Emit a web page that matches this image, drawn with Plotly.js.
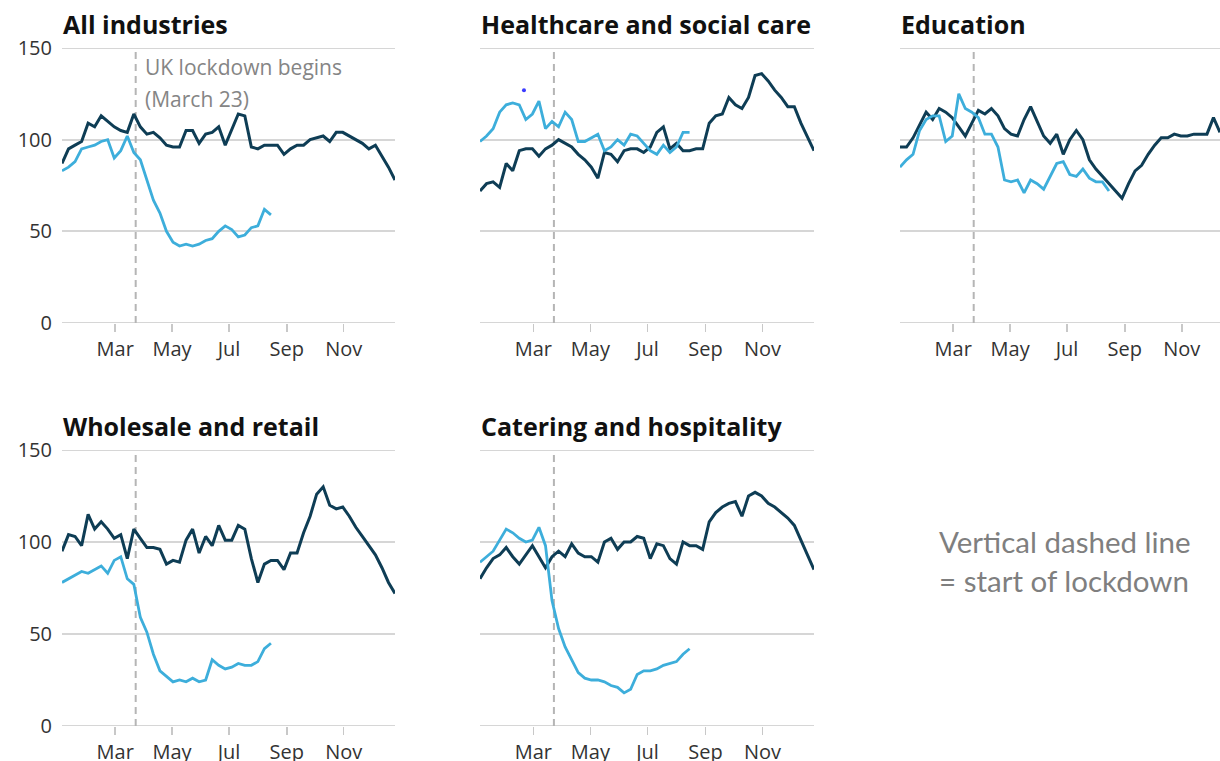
<!DOCTYPE html>
<html>
<head>
<meta charset="utf-8">
<script src="https://cdn.plot.ly/plotly-3.0.1.min.js"></script>
<style>html,body{margin:0;padding:0;background:#fff;}#chart{width:1220px;height:761px;}</style>
</head>
<body>
<div id="chart"></div>
<script>
// Weekly dates (week ending Saturday)
const weeks = [
 '2020-01-04','2020-01-11','2020-01-18','2020-01-25','2020-02-01','2020-02-08','2020-02-15','2020-02-22','2020-02-29',
 '2020-03-07','2020-03-14','2020-03-21','2020-03-28','2020-04-04','2020-04-11','2020-04-18','2020-04-25',
 '2020-05-02','2020-05-09','2020-05-16','2020-05-23','2020-05-30','2020-06-06','2020-06-13','2020-06-20','2020-06-27',
 '2020-07-04','2020-07-11','2020-07-18','2020-07-25','2020-08-01','2020-08-08','2020-08-15','2020-08-22','2020-08-29',
 '2020-09-05','2020-09-12','2020-09-19','2020-09-26','2020-10-03','2020-10-10','2020-10-17','2020-10-24','2020-10-31',
 '2020-11-07','2020-11-14','2020-11-21','2020-11-28','2020-12-05','2020-12-12','2020-12-19','2020-12-26'
];

const panelTitles = ['All industries','Healthcare and social care','Education','Wholesale and retail','Catering and hospitality'];
const monthTicks = ['2020-03-01','2020-05-01','2020-07-01','2020-09-01','2020-11-01'];
const monthLabels = ['Mar','May','Jul','Sep','Nov'];
const yTicks = [0,50,100,150];
const lockdownDate = '2020-03-23';

// Previous year (dark) and 2020 (light blue) series
const allPrev = [87,95,97,99,109,107,113,110,107,105,104,114,107,103,104,101,97,96,96,105,105,98,103,104,107,97,105,114,113,96,95,97,97,97,92,95,97,97,100,101,102,99,104,104,102,100,98,95,97,91,85,78];
const allCur  = [83,85,88,95,96,97,99,100,90,94,102,93,89,78,67,60,50,44,42,43,42,43,45,46,50,53,51,47,48,52,53,62,59];

const healthPrev = [72,76,77,74,87,83,94,95,95,91,95,97,100,98,96,92,89,85,79,93,92,88,94,95,95,93,96,104,107,95,98,94,94,95,95,109,113,114,123,119,117,123,135,136,132,127,123,118,118,109,101,94];
const healthCur  = [99,102,106,115,119,120,119,111,114,121,106,110,107,115,111,99,99,101,103,94,96,100,97,103,102,98,94,92,97,93,96,104,104];
const healthDotX = ['2020-02-20'];
const healthDotY = [127];

const eduPrev = [96,96,101,108,115,111,117,115,112,107,102,109,116,114,117,113,106,103,102,111,118,110,102,98,103,92,100,105,100,89,84,80,76,72,68,76,83,86,92,97,101,101,103,102,102,103,103,103,112,104];
const eduCur  = [85,89,92,105,111,113,113,99,102,125,117,115,112,103,103,96,78,77,78,71,78,76,73,80,87,88,81,80,84,79,77,77,72];

const retailPrev = [95,104,103,98,115,107,111,107,102,104,91,107,102,97,97,96,88,90,89,101,107,94,103,98,109,101,101,109,107,91,78,88,90,90,85,94,94,105,114,126,130,120,118,119,114,108,103,98,93,86,78,72];
const retailCur  = [78,80,82,84,83,85,87,83,90,92,80,77,59,51,39,30,27,24,25,24,26,24,25,36,33,31,32,34,33,33,35,42,45];

const cateringPrev = [80,86,91,93,97,92,88,93,98,92,86,92,95,92,99,94,92,92,89,100,102,96,100,100,103,102,91,99,98,91,88,100,98,98,96,111,116,119,121,122,114,125,127,125,121,119,116,113,109,101,93,85];
const cateringCur  = [89,92,95,101,107,105,102,100,101,108,98,68,53,43,36,29,26,25,25,24,22,21,18,20,28,30,30,31,33,34,35,39,42];

const prevSeries = [allPrev, healthPrev, eduPrev, retailPrev, cateringPrev];
const curSeries  = [allCur, healthCur, eduCur, retailCur, cateringCur];

const DARK = '#0e3d55';
const LIGHT = '#3daedb';
const GRID = '#d6d6d6';

const W = 1220, H = 761;
// pixel layout of each panel: [left, right, top(150), bottom(0)]
const panels = [
  [62, 395, 48, 323],
  [480, 814, 48, 323],
  [900, 1220, 48, 323],
  [62, 395, 450, 726],
  [480, 814, 450, 726]
];
const xRanges = [
  ['2020-01-04','2020-12-26'],
  ['2020-01-04','2020-12-26'],
  ['2020-01-04','2020-12-12'],
  ['2020-01-04','2020-12-26'],
  ['2020-01-04','2020-12-26']
];
const showY = [true,false,false,true,false];

const traces = [];
const layout = {
  width: W, height: H,
  margin: {l:0,r:0,t:0,b:0},
  paper_bgcolor: '#fff', plot_bgcolor: 'rgba(0,0,0,0)',
  showlegend: false,
  font: {family: 'Open Sans, sans-serif', color: '#333'},
  shapes: [], annotations: []
};

panels.forEach((p, i) => {
  const n = i === 0 ? '' : String(i + 1);
  const xa = 'x' + n, ya = 'y' + n;
  traces.push({x: weeks.slice(0, prevSeries[i].length), y: prevSeries[i], xaxis: xa, yaxis: ya,
    type: 'scatter', mode: 'lines', name: '2019', line: {color: DARK, width: 3}});
  traces.push({x: weeks.slice(0, curSeries[i].length), y: curSeries[i], xaxis: xa, yaxis: ya,
    type: 'scatter', mode: 'lines', name: '2020', line: {color: LIGHT, width: 2.8}});
  layout['xaxis' + n] = {
    type: 'date', anchor: ya, domain: [p[0]/W, p[1]/W], range: xRanges[i],
    tickvals: monthTicks, ticktext: monthLabels, ticks: 'outside', ticklen: 8, tickwidth: 1.5,
    tickcolor: '#c8c8c8', showgrid: false, zeroline: false, showline: false,
    tickfont: {size: 20, color: '#333', family: 'Open Sans, sans-serif'}, fixedrange: true
  };
  layout['yaxis' + n] = {
    anchor: xa, domain: [(H - p[3])/H, (H - p[2])/H], range: [0, 150],
    tickvals: yTicks, showticklabels: showY[i], ticks: 'outside', ticklen: 5, tickcolor: 'rgba(0,0,0,0)',
    showgrid: true, gridcolor: GRID, gridwidth: 2, zeroline: false, showline: false,
    tickfont: {size: 20, color: '#333', family: 'Open Sans, sans-serif'}, fixedrange: true
  };
  // edge grid lines at 0 and 150 (Plotly skips grid lines on the range edges)
  [yTicks[0], yTicks[yTicks.length - 1]].forEach(v => {
    layout.shapes.push({type: 'line', xref: xa + ' domain', yref: ya, x0: 0, x1: 1, y0: v, y1: v,
      layer: 'below', line: {color: GRID, width: 2}});
  });
  layout.shapes.push({type: 'line', xref: xa, yref: ya, x0: lockdownDate, x1: lockdownDate, y0: 0, y1: 150,
    layer: 'between', line: {color: '#b5b5b5', width: 2, dash: '7px,5px'}});
  layout.annotations.push({xref: 'paper', yref: 'paper', x: p[0]/W - 0.001, y: (H - (p[2] - 24))/H,
    xanchor: 'left', yanchor: 'middle', showarrow: false, text: '<b>' + panelTitles[i] + '</b>',
    font: {size: 25, color: '#111', family: 'Open Sans, sans-serif'}});
});

traces.push({x: healthDotX, y: healthDotY, xaxis: 'x2', yaxis: 'y2', type: 'scatter', mode: 'markers',
  marker: {color: '#3b3bff', size: 4}, name: 'dot'});

layout.annotations.push({xref: 'paper', yref: 'paper', x: 143/W, y: (H - 67)/H, xanchor: 'left', yanchor: 'middle',
  showarrow: false, text: 'UK lockdown begins', font: {size: 21, color: '#858585', family: 'Open Sans, sans-serif'}});
layout.annotations.push({xref: 'paper', yref: 'paper', x: 143/W, y: (H - 99)/H, xanchor: 'left', yanchor: 'middle',
  showarrow: false, text: '(March 23)', font: {size: 21, color: '#858585', family: 'Open Sans, sans-serif'}});
layout.annotations.push({xref: 'paper', yref: 'paper', x: 937/W, y: (H - 541)/H, xanchor: 'left', yanchor: 'middle',
  showarrow: false, text: 'Vertical dashed line', font: {size: 29.5, color: '#7f7f7f', family: 'Lato, sans-serif'}});
layout.annotations.push({xref: 'paper', yref: 'paper', x: 937/W, y: (H - 580)/H, xanchor: 'left', yanchor: 'middle',
  showarrow: false, text: '= start of lockdown', font: {size: 29.5, color: '#7f7f7f', family: 'Lato, sans-serif'}});

Plotly.newPlot('chart', traces, layout, {staticPlot: true, displayModeBar: false});
</script>
</body>
</html>
